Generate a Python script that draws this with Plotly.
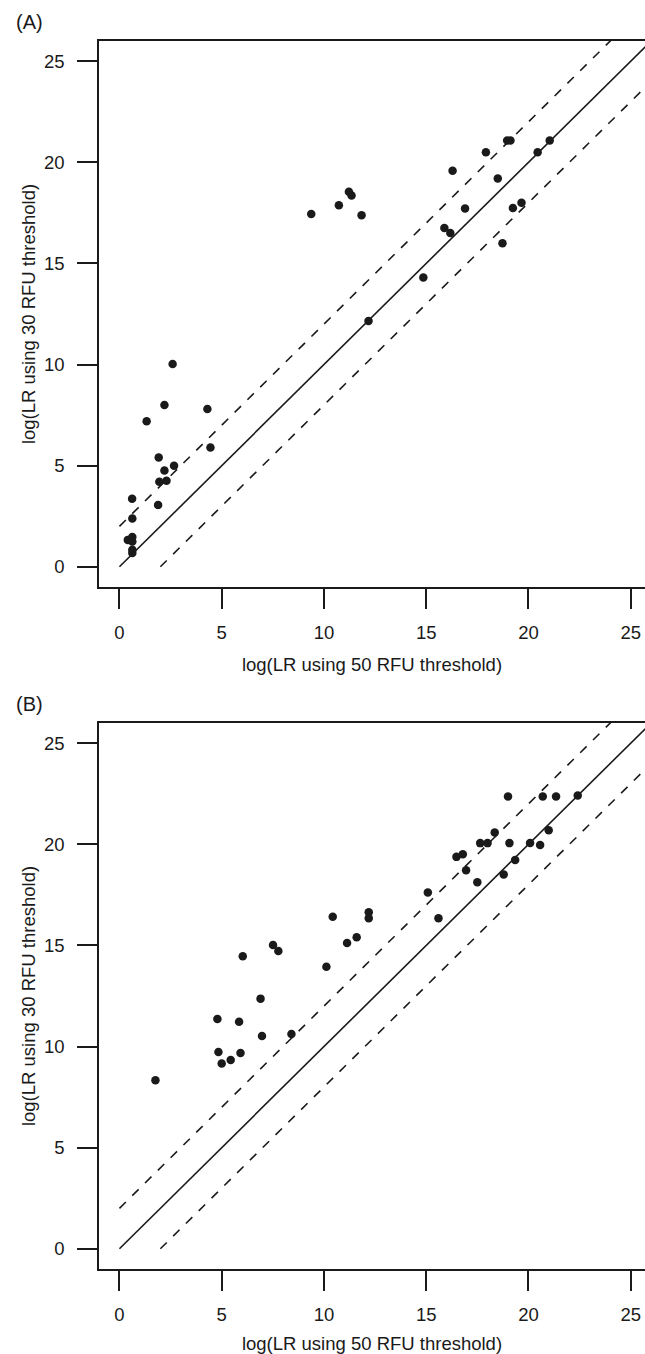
import plotly.graph_objects as go

# ---- data ----
a_x = [0.41, 0.63, 0.63, 0.63, 0.63, 0.62, 0.63, 1.33, 1.89, 1.92, 1.95, 2.2, 2.2, 2.3, 2.6, 2.67,
       4.3, 4.45, 9.38, 10.73, 11.22, 11.35, 11.84, 12.18, 14.86, 15.89, 16.18, 16.29, 16.9,
       17.92, 18.5, 18.73, 18.96, 19.12, 19.24, 19.66, 20.45, 21.04]
a_y = [1.33, 1.47, 1.25, 0.84, 0.68, 3.36, 2.39, 7.2, 3.06, 5.4, 4.2, 8.0, 4.76, 4.25, 10.03, 5.0,
       7.8, 5.9, 17.44, 17.88, 18.54, 18.36, 17.38, 12.15, 14.3, 16.75, 16.5, 19.58, 17.72,
       20.5, 19.2, 16.0, 21.08, 21.08, 17.74, 18.0, 20.5, 21.08]

b_x = [1.76, 4.79, 4.84, 5.0, 5.44, 5.85, 5.92, 6.03, 6.9, 6.97, 7.51, 7.77, 8.41, 10.12, 10.43,
       11.13, 11.6, 12.19, 12.19, 15.08, 15.6, 16.48, 16.79, 16.95, 17.5, 17.64, 18.0, 18.35,
       18.79, 19.07, 19.35, 20.08, 20.57, 20.99, 19.0, 20.7, 21.35, 22.41]
b_y = [8.33, 11.36, 9.73, 9.16, 9.34, 11.23, 9.68, 14.46, 12.37, 10.52, 15.02, 14.72, 10.62, 13.95,
       16.42, 15.12, 15.4, 16.64, 16.34, 17.62, 16.35, 19.38, 19.51, 18.72, 18.13, 20.06, 20.06,
       20.59, 18.51, 20.06, 19.23, 20.07, 19.97, 20.7, 22.37, 22.37, 22.37, 22.41]

ticks = [0, 5, 10, 15, 20, 25]
tick_text = ["0", "5", "10", "15", "20", "25"]
offsets = [0, 2, -2]          # reference lines y = x + offset
line_dash = ["solid", "dash", "dash"]
x_title = "log(LR using 50 RFU threshold)"
y_title = "log(LR using 30 RFU threshold)"
panel_labels = ["(A)", "(B)"]

# ---- layout geometry ----
W, H = 645, 1354
L = 99
x_range = [-1, -1 + (W - L) / 20.45]
y_range = [-1, 26]
panels = [(41, 587), (723, 1269)]  # plot-area top/bottom px

FONT = "Liberation Sans, Arial, Helvetica, sans-serif"
INK = "#1a1a1a"
FS = 18.5

fig = go.Figure()
datasets = [(a_x, a_y), (b_x, b_y)]
for i, (px, py) in enumerate(datasets):
    xa = "x" if i == 0 else "x2"
    ya = "y" if i == 0 else "y2"
    for off, dash in zip(offsets, line_dash):
        x0 = max(0, -off)
        fig.add_trace(go.Scatter(x=[x0, 40], y=[x0 + off, 40 + off], mode="lines",
                                 line=dict(color=INK, width=1.6,
                                           dash="solid" if dash == "solid" else "9px,9px"),
                                 xaxis=xa, yaxis=ya, showlegend=False, hoverinfo="skip"))
    fig.add_trace(go.Scatter(x=px, y=py, mode="markers",
                             marker=dict(color=INK, size=8.5, line=dict(width=0)),
                             xaxis=xa, yaxis=ya, showlegend=False, cliponaxis=False))

axis_common = dict(showline=True, linecolor=INK, linewidth=1.6, ticks="outside", ticklen=20,
                   tickwidth=1.6, tickcolor=INK, showgrid=False, zeroline=False,
                   tickmode="array", tickvals=ticks, ticktext=tick_text,
                   tickfont=dict(family=FONT, size=FS, color=INK),
                   title_font=dict(family=FONT, size=FS, color=INK))

layout = dict(width=W, height=H, margin=dict(l=L, r=0, t=0, b=0),
              plot_bgcolor="white", paper_bgcolor="white", showlegend=False)
for i, (top, bot) in enumerate(panels):
    sfx = "" if i == 0 else "2"
    dom = [1 - bot / H, 1 - top / H]
    layout["xaxis" + sfx] = dict(axis_common, range=x_range, mirror=True, domain=[0, 1],
                                 anchor="y" + sfx, ticklabelstandoff=8,
                                 title=dict(text=x_title, standoff=16))
    layout["yaxis" + sfx] = dict(axis_common, range=y_range, mirror=False, domain=dom,
                                 anchor="x" + sfx, ticklabelstandoff=9,
                                 title=dict(text=y_title, standoff=3))

annotations = []
for lab, (top, bot) in zip(panel_labels, panels):
    annotations.append(dict(text=lab, xref="paper", yref="paper", x=(14 - L) / (W - L),
                            y=1 - (top - 19) / H, xanchor="left", yanchor="middle", showarrow=False,
                            font=dict(family=FONT, size=20, color=INK)))
layout["annotations"] = annotations
fig.update_layout(**layout)
fig.write_html("out.html", config={"displayModeBar": False},
               post_script="document.body.style.margin='0px';document.body.style.overflow='hidden';")
